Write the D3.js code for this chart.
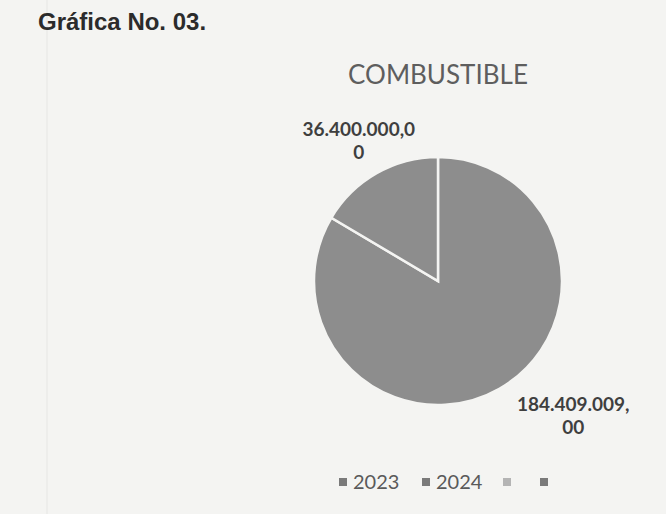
<!DOCTYPE html>
<html>
<head>
<meta charset="utf-8">
<script src="https://cdn.jsdelivr.net/npm/d3@7"></script>
<style>
  html, body { margin: 0; padding: 0; background: #f4f4f2; }
  svg { display: block; }
</style>
</head>
<body>
<div id="chart"></div>
<script>
'use strict';

// Data (Gráfica No. 03 - COMBUSTIBLE)
const categories = ['2023', '2024', '', ''];
const values = [184409009, 36400000, 0, 0];
const legendColors = ['#7a7a7a', '#7a7a7a', '#b4b4b4', '#7a7a7a'];

const width = 666;
const height = 514;

const svg = d3.select('#chart')
  .append('svg')
  .attr('width', width)
  .attr('height', height);

svg.append('rect')
  .attr('width', width)
  .attr('height', height)
  .attr('fill', '#f4f4f2');

// faint page margin line from the scan
svg.append('line')
  .attr('x1', 47).attr('x2', 47)
  .attr('y1', 0).attr('y2', height)
  .attr('stroke', '#e6e6e4')
  .attr('stroke-width', 1);

svg.append('text')
  .attr('x', 38)
  .attr('y', 30)
  .attr('font-family', '"Liberation Sans", Arial, sans-serif')
  .attr('font-weight', 'bold')
  .attr('font-size', '24px')
  .attr('fill', '#2b2b2b')
  .text('Gráfica No. 03.');

const cx = 438;
const cy = 281;
const radius = 124;

svg.append('text')
  .attr('x', cx)
  .attr('y', 84)
  .attr('text-anchor', 'middle')
  .attr('font-family', 'Lato, "Open Sans", sans-serif')
  .attr('font-size', '26px')
  .attr('fill', '#5e5e5e')
  .text('COMBUSTIBLE');

const pie = d3.pie().sort(null).value(d => d.value);
const data = categories.map((c, i) => ({category: c, value: values[i]}));
const arcs = pie(data);

const arc = d3.arc().innerRadius(0).outerRadius(radius);

const g = svg.append('g')
  .attr('transform', `translate(${cx},${cy})`);

g.selectAll('path')
  .data(arcs.filter(d => d.value > 0))
  .join('path')
  .attr('d', arc)
  .attr('fill', '#8d8d8d')
  .attr('stroke', '#f4f4f2')
  .attr('stroke-width', 2.5);

// value labels, formatted like the Spanish Excel output and wrapped
const fmt = d3.formatLocale({
  decimal: ',', thousands: '.', grouping: [3], currency: ['$', '']
}).format(',.2f');

const labelArc = d3.arc().innerRadius(160).outerRadius(160);

arcs.filter(d => d.value > 0).forEach(d => {
  const s = fmt(d.data.value);
  const lines = [s.slice(0, 12), s.slice(12)];
  let [x, y] = labelArc.centroid(d);
  if (d.endAngle - d.startAngle > Math.PI) {
    // large slice: Excel best-fit puts it outside, lower right
    const a = 2.36;
    x = 192 * Math.sin(a);
    y = -192 * Math.cos(a);
  }
  const t = g.append('text')
    .attr('text-anchor', 'middle')
    .attr('font-family', 'Lato, "Open Sans", sans-serif')
    .attr('font-weight', 'bold')
    .attr('font-size', '19px')
    .attr('fill', '#3f3f3f');
  lines.forEach((ln, i) => {
    t.append('tspan')
      .attr('x', x)
      .attr('y', y - 6 + i * 23)
      .text(ln);
  });
});

// legend
const legendX = [339, 422, 503, 540];
const legend = svg.append('g');
categories.forEach((c, i) => {
  legend.append('rect')
    .attr('x', legendX[i])
    .attr('y', 478)
    .attr('width', 8)
    .attr('height', 8)
    .attr('fill', legendColors[i]);
  legend.append('text')
    .attr('x', legendX[i] + 14)
    .attr('y', 489)
    .attr('font-family', 'Lato, "Open Sans", sans-serif')
    .attr('font-size', '20px')
    .attr('fill', '#5a5a5a')
    .text(c);
});
</script>
</body>
</html>
